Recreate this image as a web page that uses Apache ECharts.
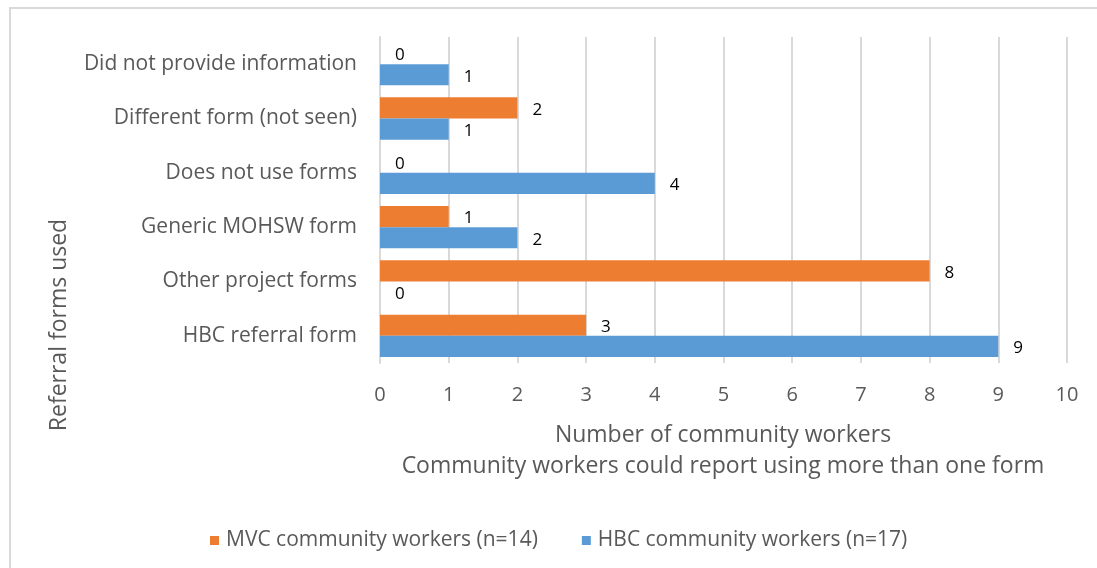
<!DOCTYPE html>
<html>
<head>
<meta charset="utf-8">
<script src="https://cdn.jsdelivr.net/npm/echarts@6/dist/echarts.min.js"></script>
<style>
  html, body { margin: 0; padding: 0; background: #fff; }
  #chart { width: 1097px; height: 568px; }
</style>
</head>
<body>
<div id="chart"></div>
<script>
// Referral forms, listed bottom to top on the category axis
const categories = [
  'HBC referral form',
  'Other project forms',
  'Generic MOHSW form',
  'Does not use forms',
  'Different form (not seen)',
  'Did not provide information'
];
const mvcWorkers = [3, 8, 1, 0, 2, 0];
const hbcWorkers = [9, 0, 2, 4, 1, 1];
const seriesNames = ['MVC community workers (n=14)', 'HBC community workers (n=17)'];
const xTitle = 'Number of community workers';
const xNote = 'Community workers could report using more than one form';
const yTitle = 'Referral forms used';

const FONT = '"Open Sans", "Noto Sans", sans-serif';
const GREY = '#595959';

const chart = echarts.init(document.getElementById('chart'), null, { renderer: 'canvas' });

const labelStyle = {
  show: true,
  position: 'right',
  distance: 15,
  offset: [0, 2],
  color: '#000',
  fontSize: 17,
  fontFamily: FONT
};

chart.setOption({
  backgroundColor: '#fff',
  animation: false,
  textStyle: { fontFamily: FONT },
  grid: { left: 380, right: 30, top: 37, bottom: 205, containLabel: false },
  legend: {
    top: 525,
    left: 205,
    itemWidth: 9,
    itemHeight: 9,
    itemGap: 44,
    icon: 'rect',
    textStyle: { color: GREY, fontSize: 21, fontFamily: FONT, padding: [0, 0, 0, 2] },
    data: seriesNames
  },
  xAxis: {
    type: 'value',
    min: 0,
    max: 10,
    interval: 1,
    axisLine: { show: false },
    axisTick: { show: false },
    axisLabel: { color: GREY, fontSize: 20, margin: 22, fontFamily: FONT },
    splitLine: { show: true, lineStyle: { color: '#D9D9D9', width: 2 } }
  },
  yAxis: {
    type: 'category',
    data: categories,
    axisLine: { show: true, lineStyle: { color: '#D9D9D9', width: 2 } },
    axisTick: { show: false },
    axisLabel: { color: GREY, fontSize: 21, margin: 23, fontFamily: FONT, padding: [5, 0, 0, 0] }
  },
  series: [
    {
      name: seriesNames[0],
      type: 'bar',
      data: mvcWorkers,
      itemStyle: { color: '#ED7D31' },
      barGap: '0%',
      barCategoryGap: '22%',
      label: labelStyle
    },
    {
      name: seriesNames[1],
      type: 'bar',
      data: hbcWorkers,
      itemStyle: { color: '#5B9BD5' },
      barGap: '0%',
      barCategoryGap: '22%',
      label: labelStyle
    }
  ],
  graphic: [
    {
      type: 'polyline',
      silent: true,
      shape: { points: [[10, 600], [10, 8], [1110, 8]] },
      style: { stroke: '#D9D9D9', lineWidth: 2, fill: null }
    },
    {
      type: 'text',
      silent: true,
      style: {
        text: xTitle,
        x: 723, y: 435,
        align: 'center', verticalAlign: 'middle',
        fill: GREY, fontSize: 23, fontFamily: FONT
      }
    },
    {
      type: 'text',
      silent: true,
      style: {
        text: xNote,
        x: 723, y: 466,
        align: 'center', verticalAlign: 'middle',
        fill: GREY, fontSize: 23, fontFamily: FONT
      }
    },
    {
      type: 'text',
      silent: true,
      x: 59,
      y: 325,
      rotation: Math.PI / 2,
      style: {
        text: yTitle,
        x: 0, y: 0,
        align: 'center', verticalAlign: 'middle',
        fill: GREY, fontSize: 23, fontFamily: FONT
      }
    }
  ]
});
</script>
</body>
</html>
